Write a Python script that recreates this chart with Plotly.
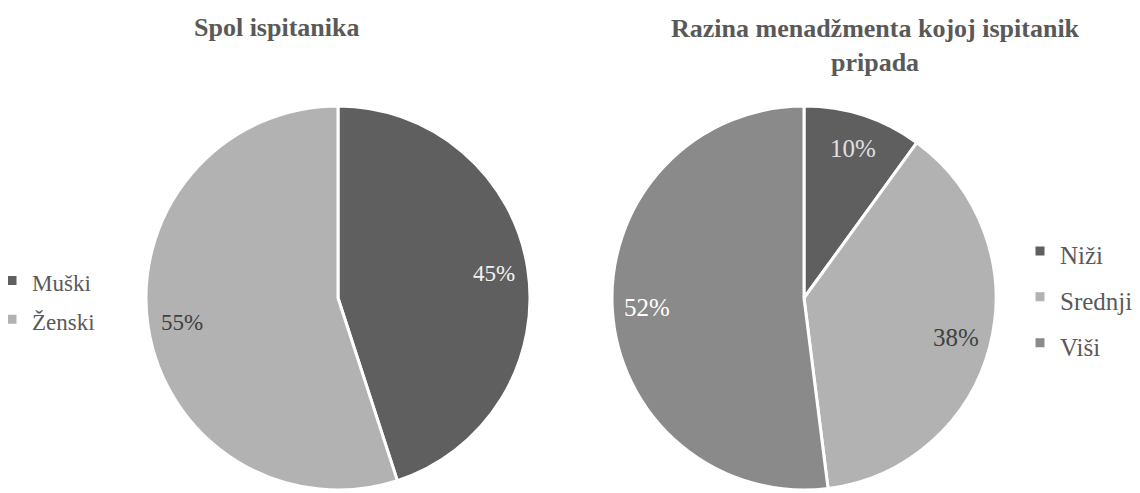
import math
import plotly.graph_objects as go

gender_labels = ["Muški", "Ženski"]
gender_values = [45, 55]
level_labels = ["Niži", "Srednji", "Viši"]
level_values = [10, 38, 52]

title_left = "Spol ispitanika"
title_right = "Razina menadžmenta kojoj ispitanik<br>pripada"

DARK = "#5f5f5f"
LIGHT = "#b2b2b2"
MID = "#8a8a8a"
TXT = "#595959"
FONT = "Liberation Serif"

W, H = 1132, 485  # page body has an 8px margin in the 1140x493 window

# pie geometry in figure pixels
LEFT_PIE = dict(x0=138, x1=522, y0=98, y1=482)
RIGHT_PIE = dict(x0=604, x1=988, y0=98, y1=482)


def dom(p):
    return dict(x=[p["x0"] / W, p["x1"] / W], y=[1 - p["y1"] / H, 1 - p["y0"] / H])


def label_annotations(values, geom, colors, size):
    cx = (geom["x0"] + geom["x1"]) / 2
    cy = (geom["y0"] + geom["y1"]) / 2
    r = (geom["x1"] - geom["x0"]) / 2
    total = sum(values)
    start = 0.0
    anns = []
    for v, c in zip(values, colors):
        mid = (start + v / 2) / total * 2 * math.pi
        start += v
        px = cx + 0.82 * r * math.sin(mid)
        py = cy - 0.82 * r * math.cos(mid)
        anns.append(dict(text=f"{round(v / total * 100)}%", x=px / W, y=1 - py / H,
                         xref="paper", yref="paper", showarrow=False,
                         xanchor="center", yanchor="middle",
                         font=dict(size=size, color=c, family=FONT)))
    return anns


def leg(labels, size):
    return [f"<span style='font-size:{size}px'>{l}</span>" for l in labels]


fig = go.Figure()
fig.add_trace(go.Pie(
    labels=leg(gender_labels, 23), values=gender_values,
    sort=False, direction="clockwise", rotation=0,
    marker=dict(colors=[DARK, LIGHT], line=dict(color="white", width=3)),
    textinfo="none", domain=dom(LEFT_PIE),
    legend="legend", hoverinfo="percent",
))
fig.add_trace(go.Pie(
    labels=leg(level_labels, 25), values=level_values,
    sort=False, direction="clockwise", rotation=0,
    marker=dict(colors=[DARK, LIGHT, MID], line=dict(color="white", width=3)),
    textinfo="none", domain=dom(RIGHT_PIE),
    legend="legend2", hoverinfo="percent",
))

annotations = []
annotations += label_annotations(gender_values, LEFT_PIE, ["#f2f2f2", "#404040"], 23)
annotations += label_annotations(level_values, RIGHT_PIE, ["#e0e0e0", "#404040", "#ffffff"], 25)
annotations += [
    dict(text="<b>" + title_left + "</b>", x=268 / W, y=1 - 20 / H,
         xref="paper", yref="paper", showarrow=False,
         font=dict(size=26, color=TXT, family=FONT), xanchor="center", yanchor="middle"),
    dict(text="<b>" + title_right + "</b>", x=867 / W, y=1 - 38 / H,
         xref="paper", yref="paper", showarrow=False,
         font=dict(size=26, color=TXT, family=FONT), xanchor="center", yanchor="middle"),
]

fig.update_layout(
    width=W, height=H,
    margin=dict(l=0, r=0, t=0, b=0, autoexpand=False),
    paper_bgcolor="white", plot_bgcolor="white",
    font=dict(family=FONT, color=TXT, size=18),
    legend=dict(x=-16 / W, y=1 - 292 / H, xanchor="left", yanchor="middle",
                font=dict(size=27.5, color=TXT, family=FONT), bgcolor="rgba(0,0,0,0)"),
    legend2=dict(x=(1032 - 20) / W, y=1 - 289 / H, xanchor="left", yanchor="middle",
                 font=dict(size=33, color=TXT, family=FONT), bgcolor="rgba(0,0,0,0)"),
    annotations=annotations,
)

fig.write_html("out.html")
